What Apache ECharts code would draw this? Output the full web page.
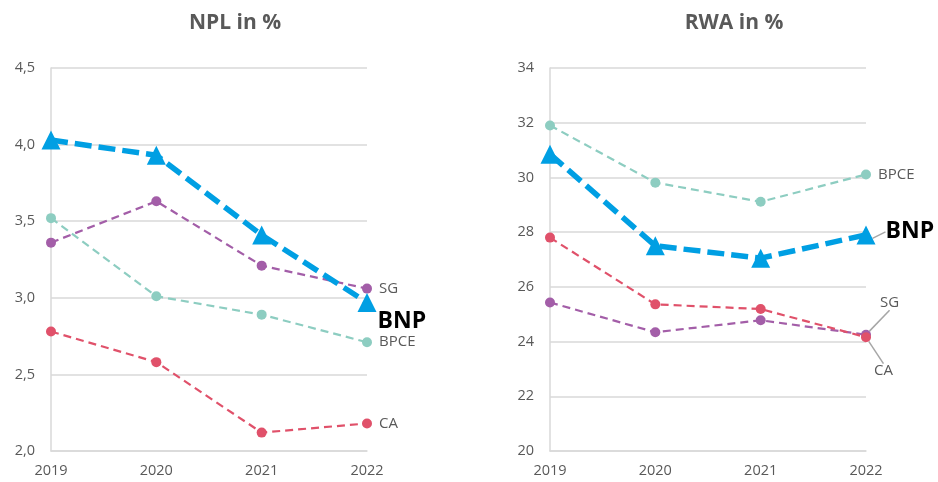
<!DOCTYPE html>
<html>
<head>
<meta charset="utf-8">
<script src="https://cdn.jsdelivr.net/npm/echarts@6/dist/echarts.min.js"></script>
<style>
html,body{margin:0;padding:0;background:#fff;}
#c{width:938px;height:482px;}
</style>
</head>
<body>
<div id="c"></div>
<script>
const years = ['2019', '2020', '2021', '2022'];
const banks = ['BNP', 'SG', 'BPCE', 'CA'];

const nplBNP  = [4.03, 3.93, 3.41, 2.97];
const nplSG   = [3.36, 3.63, 3.21, 3.06];
const nplBPCE = [3.52, 3.01, 2.89, 2.71];
const nplCA   = [2.78, 2.58, 2.12, 2.18];

const rwaBNP  = [30.85, 27.5, 27.05, 27.9];
const rwaSG   = [25.43, 24.34, 24.78, 24.25];
const rwaBPCE = [31.9, 29.81, 29.11, 30.11];
const rwaCA   = [27.8, 25.36, 25.19, 24.16];

const nplTicks = [2.0, 2.5, 3.0, 3.5, 4.0, 4.5];
const rwaTicks = [20, 22, 24, 26, 28, 30, 32, 34];

const titles = ['NPL in %', 'RWA in %'];

const colors = {BNP: '#009FE3', SG: '#A35EA8', BPCE: '#8DCDC1', CA: '#E0516A'};
const FONT = '"Open Sans", "Noto Sans", sans-serif';
const GREY = '#595959';

function labelStyle(name, extra) {
  const base = name === 'BNP'
    ? {fontSize: 23, fontWeight: 'bold', color: '#000'}
    : {fontSize: 15, color: GREY};
  return Object.assign({show: true, position: 'right', distance: 7, formatter: name, fontFamily: FONT}, base, extra || {});
}

function makeSeries(name, values, axisIdx, lab) {
  const isBNP = name === 'BNP';
  const last = values.length - 1;
  const data = values.map((v, i) => i === last
    ? {value: v, label: labelStyle(name, lab && lab.label),
       labelLine: lab && lab.line ? {show: true, lineStyle: {color: '#a6a6a6', width: 1.5}} : {show: false}}
    : v);
  const s = {
    name: name,
    type: 'line',
    xAxisIndex: axisIdx,
    yAxisIndex: axisIdx,
    data: data,
    symbol: isBNP ? 'triangle' : 'circle',
    symbolSize: isBNP ? 19 : 10,
    itemStyle: {color: colors[name]},
    lineStyle: {color: colors[name], width: isBNP ? 5.5 : 2.2, type: isBNP ? [17, 7] : [8, 5]},
    z: isBNP ? 5 : 3,
    label: {show: false},
    animation: false
  };
  if (lab && lab.layout) s.labelLayout = lab.layout;
  return s;
}

function yAxisCfg(idx, ticks, fmt) {
  return {
    type: 'value', gridIndex: idx,
    min: ticks[0], max: ticks[ticks.length - 1], interval: ticks[1] - ticks[0],
    axisLine: {show: true, lineStyle: {color: '#d9d9d9', width: 1.5}},
    axisTick: {show: false},
    splitLine: {lineStyle: {color: '#d9d9d9', width: 1.5}},
    axisLabel: {color: GREY, fontSize: 14.5, fontFamily: FONT, margin: 16, formatter: fmt}
  };
}
function xAxisCfg(idx) {
  return {
    type: 'category', gridIndex: idx, data: years, boundaryGap: false,
    axisLine: {show: true, lineStyle: {color: '#d9d9d9', width: 1.5}},
    axisTick: {show: false},
    axisLabel: {color: GREY, fontSize: 14.5, fontFamily: FONT, margin: 12}
  };
}

const chart = echarts.init(document.getElementById('c'), null, {renderer: 'canvas'});
chart.setOption({
  backgroundColor: '#fff',
  animation: false,
  title: [
    {text: titles[0], left: 230, top: 8, textAlign: 'center',
     textStyle: {fontSize: 21, fontWeight: 'bold', color: GREY, fontFamily: FONT}},
    {text: titles[1], left: 729, top: 8, textAlign: 'center',
     textStyle: {fontSize: 21, fontWeight: 'bold', color: GREY, fontFamily: FONT}}
  ],
  grid: [
    {left: 51, right: 571, top: 68, bottom: 31},
    {left: 550, right: 72, top: 68, bottom: 31}
  ],
  xAxis: [xAxisCfg(0), xAxisCfg(1)],
  yAxis: [
    yAxisCfg(0, nplTicks, v => v.toFixed(1).replace('.', ',')),
    yAxisCfg(1, rwaTicks, v => String(v))
  ],
  series: [
    makeSeries('BPCE', nplBPCE, 0, {label: {}}),
    makeSeries('CA', nplCA, 0, {label: {}}),
    makeSeries('SG', nplSG, 0, {label: {}}),
    makeSeries('BNP', nplBNP, 0, {label: {}, layout: {dx: -6, dy: 19}}),
    makeSeries('BPCE', rwaBPCE, 1, {label: {}}),
    makeSeries('SG', rwaSG, 1, {label: {}, line: true, layout: {dx: 2, dy: -32}}),
    makeSeries('CA', rwaCA, 1, {label: {}, line: true, layout: {dx: -4, dy: 34}}),
    makeSeries('BNP', rwaBNP, 1, {label: {}, line: true, layout: {dx: 3, dy: -3}})
  ]
});
</script>
</body>
</html>
